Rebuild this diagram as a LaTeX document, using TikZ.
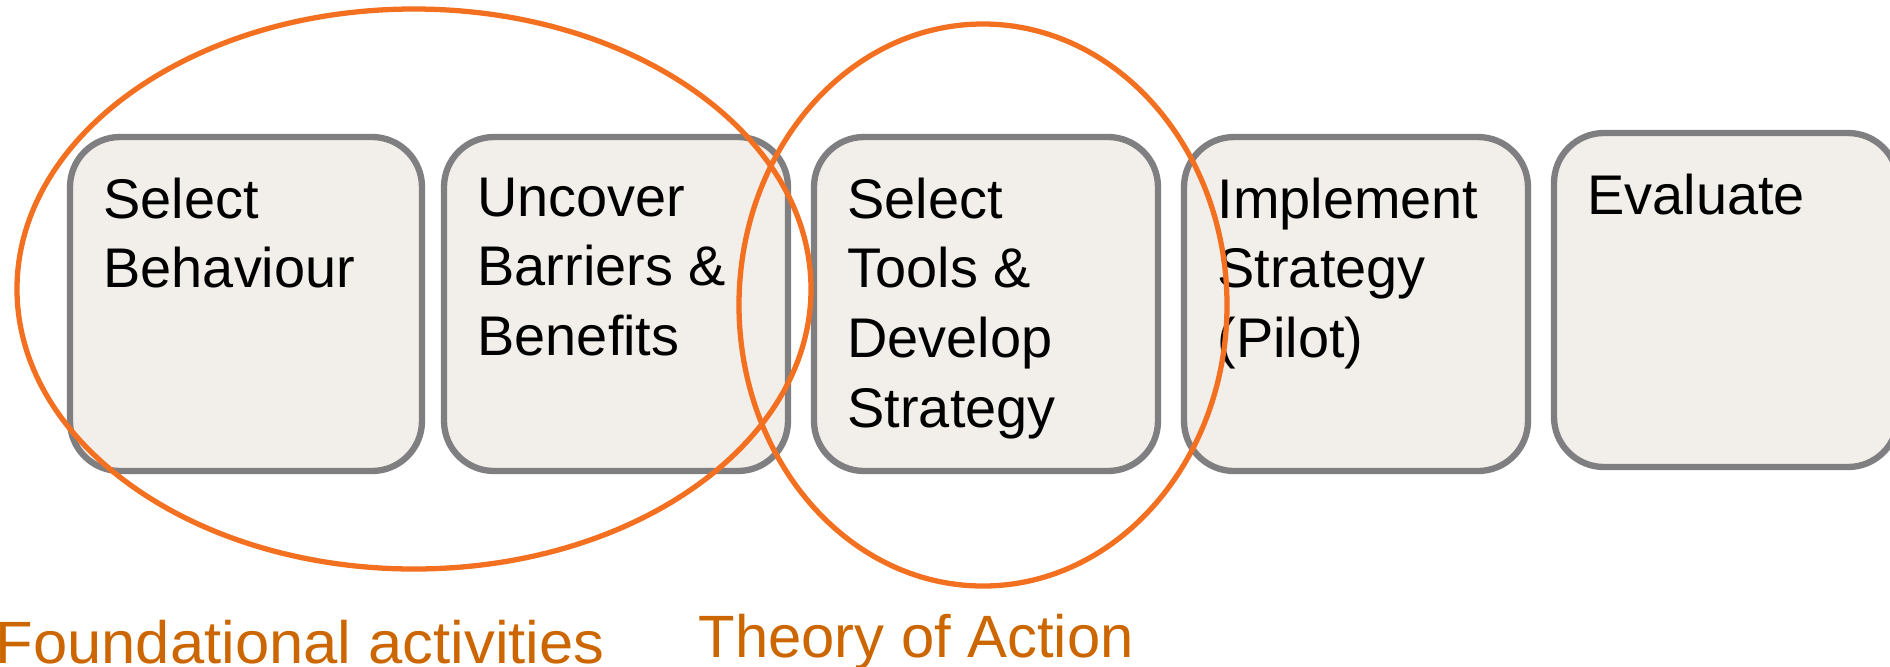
\documentclass[tikz,border=0pt]{standalone}
\usepackage{fontspec}
\setmainfont{Liberation Sans}
\usepackage{xcolor}
\usepackage{tikz}
\usetikzlibrary{shapes.geometric}
\definecolor{boxgray}{RGB}{127,127,130}
\definecolor{boxfill}{RGB}{242,238,233}
\definecolor{ringorange}{RGB}{242,112,32}
\definecolor{labelorange}{RGB}{204,102,0}
\newcommand{\steptextfont}{\fontsize{15.9}{19.9}\selectfont}
\newcommand{\grouptextfont}{\fontsize{17}{20}\selectfont}

\begin{document}
\begin{tikzpicture}[node distance=3.7cm]
    \tikzstyle{stepbox} = [rectangle, rounded corners=0.5cm, minimum width=3.44cm, minimum height=3.34cm, draw=boxgray, line width=1.8pt, fill=boxfill]
    \tikzstyle{steptext} = [anchor=north west, align=left, inner sep=0pt, font=\steptextfont]
    \tikzstyle{group} = [ellipse, draw=ringorange, line width=1.5pt, inner sep=0pt]
    \tikzstyle{grouplabel} = [anchor=base west, inner sep=0pt, text=labelorange, font=\grouptextfont]

    \useasboundingbox (0,0) rectangle (18.9,-6.66);

    % Steps
    \node [stepbox, minimum width=3.52cm] (select) at (2.46,-3.04) {};
    \node [stepbox, right of=select] (uncover) {};
    \node [stepbox, right of=uncover] (tools) {};
    \node [stepbox, right of=tools] (implement) {};
    \node [stepbox, right of=implement, yshift=0.04cm] (evaluate) {};

    % Step names
    \node [steptext] (select_txt) at ([xshift=0.36cm, yshift=-0.43cm]select.north west) {Select\\Behaviour};
    \node [steptext] (uncover_txt) at ([xshift=0.36cm, yshift=-0.43cm]uncover.north west) {Uncover\\Barriers \&\\Benefits};
    \node [steptext] (tools_txt) at ([xshift=0.36cm, yshift=-0.43cm]tools.north west) {Select\\Tools \&\\Develop\\Strategy};
    \node [steptext] (implement_txt) at ([xshift=0.36cm, yshift=-0.43cm]implement.north west) {Implement\\Strategy\\(Pilot)};
    \node [steptext] (evaluate_txt) at ([xshift=0.36cm, yshift=-0.43cm]evaluate.north west) {Evaluate};

    % Groupings
    \node [group, minimum width=7.94cm, minimum height=5.6cm] (foundation) at (4.14,-2.89) {};
    \node [group, minimum width=4.88cm, minimum height=5.62cm] (theory) at (9.83,-3.05) {};

    \node [grouplabel, xscale=1.03] (foundation_lbl) at (-0.05,-6.63) {Foundational activities};
    \node [grouplabel] (theory_lbl) at (6.98,-6.57) {Theory of Action};
\end{tikzpicture}
\end{document}
